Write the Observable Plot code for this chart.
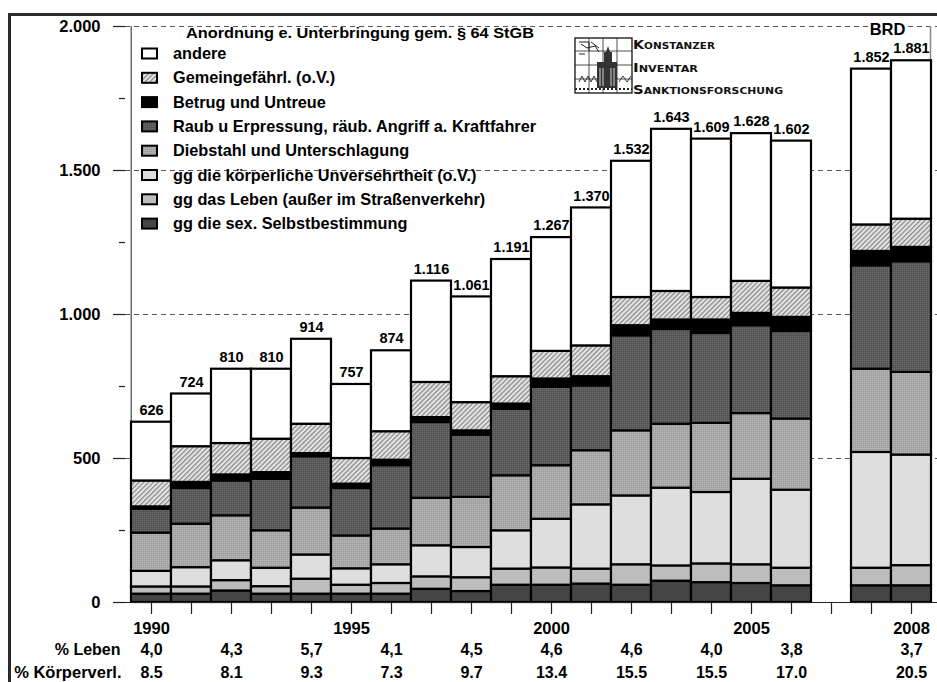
<!DOCTYPE html>
<html><head><meta charset="utf-8">
<script src="https://cdn.jsdelivr.net/npm/d3@7"></script>
<script src="https://cdn.jsdelivr.net/npm/@observablehq/plot@0.6"></script>
<style>
html,body{margin:0;padding:0;background:#fff;width:937px;height:682px;overflow:hidden;}
#wrap{position:relative;width:937px;height:682px;overflow:hidden;font-family:"Liberation Sans",Arial,sans-serif;}
#chart{position:absolute;left:0;top:0;}
#overlay{position:absolute;left:0;top:0;}
#frame{position:absolute;left:8px;top:13px;width:1000px;height:1000px;border:3px solid #2a2a2a;}
</style></head><body>
<div id="wrap"><div id="chart"></div><svg id="overlay" width="937" height="682"></svg><div id="frame"></div></div>
<script>
// ---- data ----
const slots = ["1990","1991","1992","1993","1994","1995","1996","1997","1998","1999","2000","2001","2002","2003","2004","2005","2006","gap","BRD 2007","BRD 2008"];
const barSlots = ["1990","1991","1992","1993","1994","1995","1996","1997","1998","1999","2000","2001","2002","2003","2004","2005","2006","BRD 2007","BRD 2008"];
const sexValues     = [29,29,40,29,29,29,29,46,38,60,60,64,60,74,69,66,58,58,58];
const lebenValues   = [25,25,36,26,52,31,37,43,48,56,60,52,71,53,65,65,61,61,70];
const koerperValues = [54,67,69,64,84,57,65,108,105,133,169,223,239,270,248,297,271,402,384];
const diebValues    = [133,151,156,130,163,114,124,165,174,191,186,188,226,222,240,228,247,289,287];
const raubValues    = [83,124,121,179,178,165,220,263,216,231,272,225,330,329,312,305,304,359,384];
const betrugValues  = [8,21,21,23,11,15,19,17,15,18,29,32,35,33,47,43,49,50,50];
const gemeinValues  = [90,124,109,116,102,89,99,122,98,95,96,107,98,99,78,111,102,92,98];
const andereValues  = [204,183,258,243,295,257,281,352,367,407,395,479,473,563,550,513,510,541,550];
const totals        = [626,724,810,810,914,757,874,1116,1061,1191,1267,1370,1532,1643,1609,1628,1602,1852,1881];

const seriesKeys  = ["sex","leben","koerper","dieb","raub","betrug","gemein","andere"];
const seriesNames = ["gg die sex. Selbstbestimmung","gg das Leben (außer im Straßenverkehr)","gg die körperliche Unversehrtheit (o.V.)","Diebstahl und Unterschlagung","Raub u Erpressung, räub. Angriff a. Kraftfahrer","Betrug und Untreue","Gemeingefährl.  (o.V.)","andere"];
const seriesValues = [sexValues,lebenValues,koerperValues,diebValues,raubValues,betrugValues,gemeinValues,andereValues];

const xTickLabels = {"1990":"1990","1995":"1995","2000":"2000","2005":"2005","BRD 2008":"2008"};
const pctSlots   = ["1990","1992","1994","1996","1998","2000","2002","2004","2006","BRD 2008"];
const pctLeben   = ["4,0","4,3","5,7","4,1","4,5","4,6","4,6","4,0","3,8","3,7"];
const pctKoerper = ["8.5","8.1","9.3","7.3","9.7","13.4","15.5","15.5","17.0","20.5"];
const title = "Anordnung e. Unterbringung gem. § 64 StGB";

// ---- styles ----
const fills = {sex:"#454545", leben:"#bdbdbd", koerper:"#dedede", dieb:"url(#texGray)", raub:"url(#texDark)", betrug:"#000", gemein:"url(#hatch)", andere:"#fff"};

const de = d3.formatLocale({decimal:",", thousands:".", grouping:[3], currency:["","€"]});
const fmt = de.format(",");

const rows = [];
barSlots.forEach((s,i) => seriesKeys.forEach((k,j) => rows.push({slot:s, key:k, value:seriesValues[j][i]})));
const totalRows = barSlots.map((s,i) => ({slot:s, total:totals[i]}));
const pctRows = pctSlots.map((s,i) => ({slot:s, leben:pctLeben[i], koerper:pctKoerper[i]}));

const bold = {fontWeight:"bold"};
const plot = Plot.plot({
  width:937, height:682,
  marginLeft:125, marginRight:0, marginTop:26, marginBottom:80,
  style:{fontFamily:'"Liberation Sans", Arial, sans-serif', fontSize:"16px", background:"transparent", color:"#000"},
  x:{domain:slots, padding:0, axis:null},
  y:{domain:[0,2000], axis:null},
  color:{type:"identity"},
  marks:[
    Plot.gridY([500,1000,1500,2000], {stroke:"#555", strokeOpacity:1, strokeWidth:1.2, strokeDasharray:"5,4"}),
    Plot.ruleX([slots[0]], {y1:0, y2:2000, dx:-20.3, stroke:"#444", strokeWidth:1.2}),
    Plot.ruleX([slots[slots.length-1]], {y1:0, y2:2000, dx:19, stroke:"#888", strokeWidth:1.5}),
    Plot.barY(rows, {x:"slot", y:"value", fill:d => fills[d.key], stroke:"#000", strokeWidth:2.2}),
    Plot.ruleY([0], {stroke:"#222", strokeWidth:1.2}),
    Plot.axisY([0,500,1000,1500,2000], {tickSize:12, tickPadding:13, tickFormat:fmt, fontSize:16.5, ...bold, stroke:"#222", strokeWidth:1.2, label:null}),
    Plot.axisY([250,750,1250,1750], {tickSize:6, tickFormat:() => "", stroke:"#222", strokeWidth:1.2, label:null}),
    Plot.axisX(slots, {tickSize:12, tickPadding:8, tickFormat:d => xTickLabels[d] || "", fontSize:16.5, ...bold, stroke:"#222", strokeWidth:1.2, label:null}),
    Plot.text(totalRows, {x:"slot", y:"total", text:d => fmt(d.total), dy:-12, fontSize:14.5, ...bold}),
    Plot.text(["BRD"], {x:() => "BRD 2008", y:() => 2000, text:d => d, dx:-24, dy:3, fontSize:16.5, ...bold, stroke:"#fff", strokeWidth:5, paintOrder:"stroke", fill:"#000"}),
    Plot.text(pctRows, {x:"slot", text:"leben", frameAnchor:"bottom", dy:52, fontSize:16, ...bold}),
    Plot.text(pctRows, {x:"slot", text:"koerper", frameAnchor:"bottom", dy:75, fontSize:16, ...bold}),
    Plot.text(["% Leben"], {frameAnchor:"bottom-left", text:d => d, dx:-5, dy:52, textAnchor:"end", fontSize:16, ...bold}),
    Plot.text(["% Körperverl."], {frameAnchor:"bottom-left", text:d => d, dx:-4, dy:75, textAnchor:"end", fontSize:16.5, ...bold})
  ]
});
document.getElementById("chart").appendChild(plot);

// patterns
const svg = d3.select(plot);
const defs = svg.insert("defs", ":first-child");
const h = defs.append("pattern").attr("id","hatch").attr("patternUnits","userSpaceOnUse").attr("width",3.4).attr("height",3.4).attr("patternTransform","rotate(45)");
h.append("rect").attr("width",3.4).attr("height",3.4).attr("fill","#e6e6e6");
h.append("rect").attr("width",1.3).attr("height",3.4).attr("fill","#8a8a8a");
const td = defs.append("pattern").attr("id","texDark").attr("patternUnits","userSpaceOnUse").attr("width",2).attr("height",2);
td.append("rect").attr("width",2).attr("height",2).attr("fill","#5a5a5a");
td.append("rect").attr("width",1).attr("height",1).attr("fill","#6c6c6c");
td.append("rect").attr("x",1).attr("y",1).attr("width",1).attr("height",1).attr("fill","#505050");
const tg = defs.append("pattern").attr("id","texGray").attr("patternUnits","userSpaceOnUse").attr("width",2).attr("height",2);
tg.append("rect").attr("width",2).attr("height",2).attr("fill","#a8a8a8");
tg.append("rect").attr("width",1).attr("height",1).attr("fill","#b8b8b8");
tg.append("rect").attr("x",1).attr("y",1).attr("width",1).attr("height",1).attr("fill","#9c9c9c");

// ---- overlay: title, legend, logo ----
const ov = d3.select("#overlay").style("font-family",'"Liberation Sans", Arial, sans-serif');
ov.append("text").attr("x",186).attr("y",38).attr("font-size",15).attr("font-weight","bold")
  .attr("textLength",348).attr("lengthAdjust","spacingAndGlyphs").text(title);
const legendOrder = seriesKeys.map((k,i) => i).reverse();
legendOrder.forEach((j,i) => {
  const cy = 53.5 + i*24.3;
  ov.append("rect").attr("x",142).attr("y",cy-5).attr("width",15).attr("height",10)
    .attr("fill",fills[seriesKeys[j]]).attr("stroke","#000").attr("stroke-width",2);
  ov.append("text").attr("x",173).attr("y",cy+5.5).attr("font-size",16.3).attr("font-weight","bold").text(seriesNames[j]);
});
// logo
const lg = ov.append("g").attr("transform","translate(575,38)");
lg.append("rect").attr("width",57).attr("height",55).attr("fill","#fff").attr("stroke","#111").attr("stroke-width",1.3);
[14,28,42].forEach(x => lg.append("line").attr("x1",x).attr("x2",x).attr("y1",0).attr("y2",55).attr("stroke","#222").attr("stroke-width",0.8));
[13,27,41].forEach(y => lg.append("line").attr("x1",0).attr("x2",57).attr("y1",y).attr("y2",y).attr("stroke","#222").attr("stroke-width",0.8));
lg.append("path").attr("d","M4 4 L14 4 L14 13 M6 6 L12 10 L20 8 L24 14 M4 16 L10 16 M16 4 L24 10").attr("fill","none").attr("stroke","#222").attr("stroke-width",1);
lg.append("path").attr("d","M31 14 L33 8 L35 14 L37 14 L37 24 L42 24 L42 50 L22 50 L22 24 L29 24 L29 14 Z").attr("fill","#333");
lg.append("path").attr("d","M25 30 L25 48 M28 30 L28 48 M36 30 L36 48 M39 30 L39 48").attr("stroke","#fff").attr("stroke-width",0.8);
lg.append("path").attr("d","M4 44 L7 38 L10 44 L13 38 L16 44 L19 38 L22 44 M44 44 L48 38 L52 44 L56 38").attr("fill","none").attr("stroke","#222").attr("stroke-width",0.9);
lg.append("path").attr("d","M0 51 L57 51").attr("stroke","#222").attr("stroke-width",2).attr("stroke-dasharray","2,2");
const logoLines = [["K","ONSTANZER",49,82],["I","NVENTAR",71.5,65],["S","ANKTIONSFORSCHUNG",94,150]];
logoLines.forEach(([a,b,y,w]) => {
  const t = ov.append("text").attr("x",633).attr("y",y).attr("font-family",'"DejaVu Sans", sans-serif').attr("font-weight","bold")
    .attr("textLength",w).attr("lengthAdjust","spacingAndGlyphs").attr("fill","#111");
  t.append("tspan").attr("font-size",13).text(a);
  t.append("tspan").attr("font-size",9.5).text(b);
});
</script>
</body></html>
